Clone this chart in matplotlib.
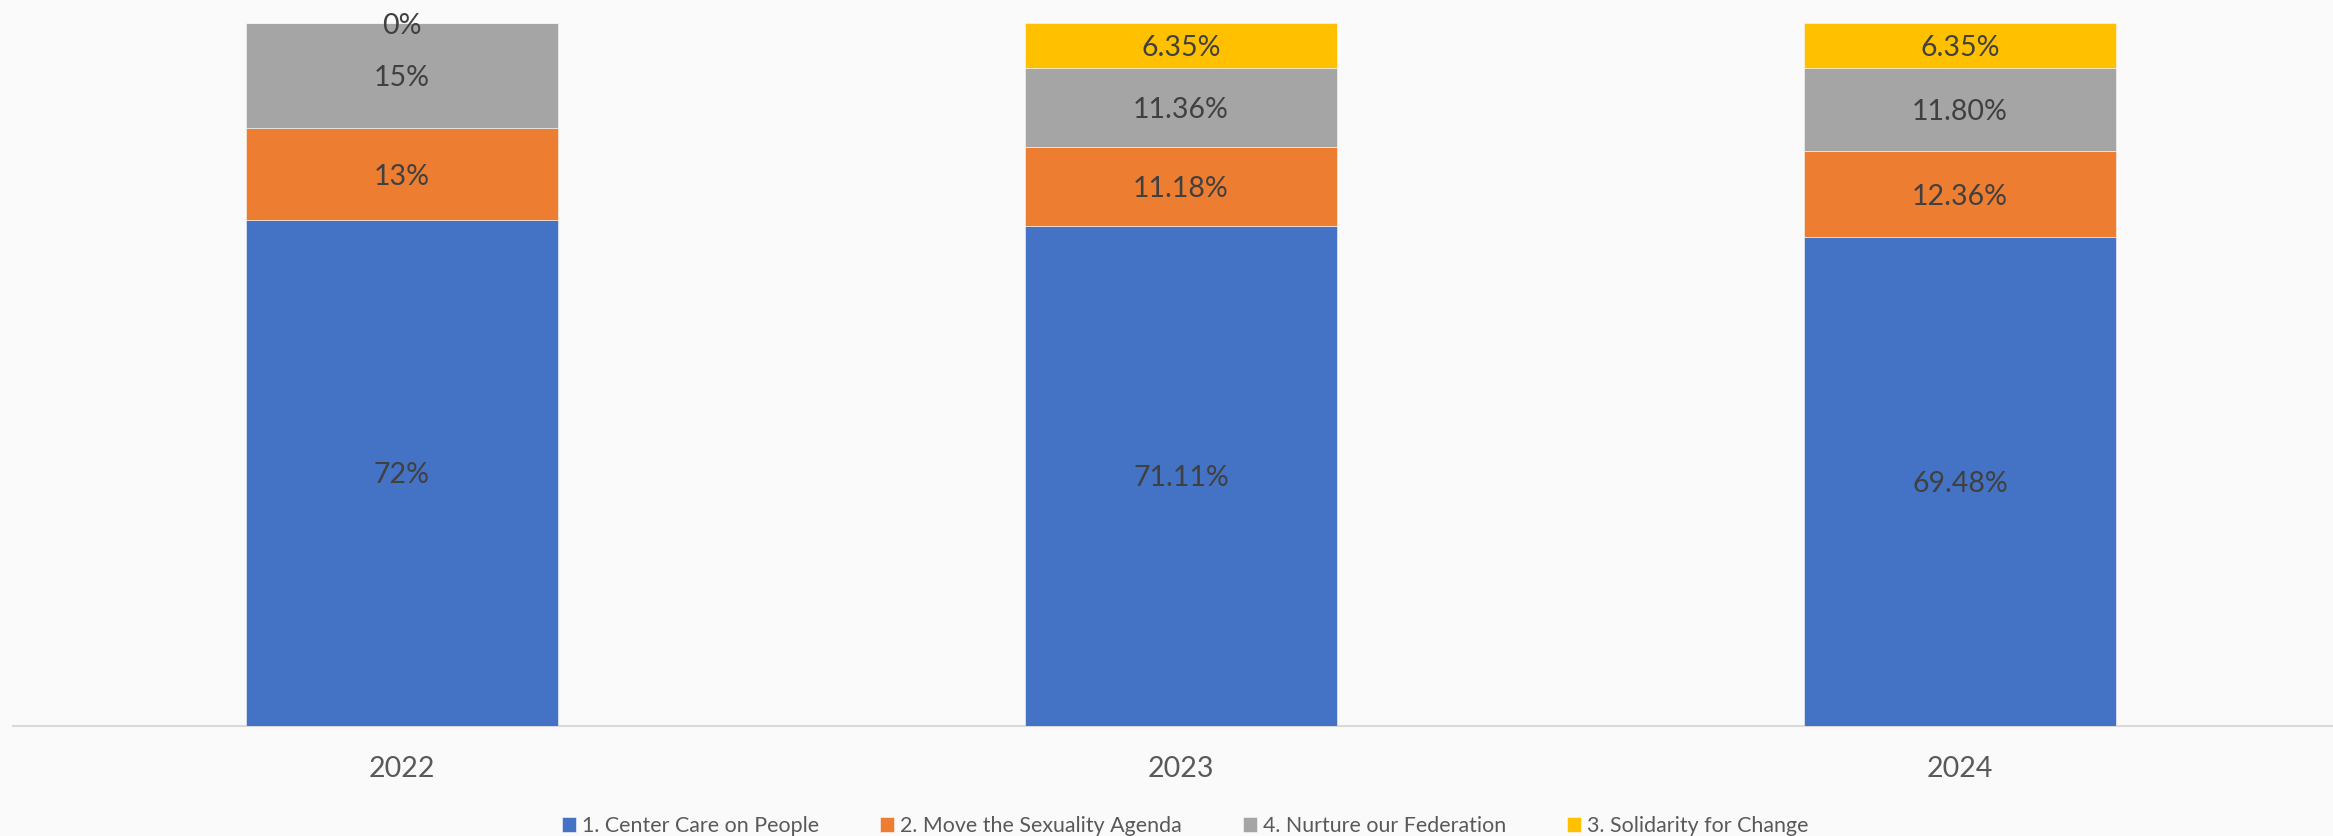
import matplotlib
matplotlib.use("Agg")
import matplotlib.pyplot as plt

# ---- data ----
years = ["2022", "2023", "2024"]
series_names = ["1. Center Care on People", "2. Move the Sexuality Agenda",
                "4. Nurture our Federation", "3. Solidarity for Change"]
center_care = [72, 71.11, 69.48]
move_agenda = [13, 11.18, 12.36]
nurture_fed = [15, 11.36, 11.80]
solidarity = [0, 6.35, 6.35]
center_care_lbl = ["72%", "71.11%", "69.48%"]
move_agenda_lbl = ["13%", "11.18%", "12.36%"]
nurture_fed_lbl = ["15%", "11.36%", "11.80%"]
solidarity_lbl = ["0%", "6.35%", "6.35%"]

series_values = [center_care, move_agenda, nurture_fed, solidarity]
series_labels = [center_care_lbl, move_agenda_lbl, nurture_fed_lbl, solidarity_lbl]
colors = ["#4472C4", "#ED7D31", "#A5A5A5", "#FFC000"]

plt.rcParams['font.family'] = ['Lato', 'DejaVu Sans']

W, H, DPI = 2333, 836, 100
fig = plt.figure(figsize=(W / DPI, H / DPI), dpi=DPI, facecolor="#FAFAFA")

left_px, right_px = 12.5, 2349.5
top_px, base_px = 23.0, 725.7
ax = fig.add_axes([left_px / W, 1 - base_px / H,
                   (right_px - left_px) / W, (base_px - top_px) / H])
ax.set_facecolor("#FAFAFA")

x = list(range(len(years)))
bottoms = [0.0] * len(years)
handles = []
for vals, lbls, col, name in zip(series_values, series_labels, colors, series_names):
    bars = ax.bar(x, vals, width=0.4, bottom=bottoms, color=col,
                  edgecolor="#FAFAFA", linewidth=0.4, label=name, zorder=2)
    handles.append(bars)
    for xi, v, b, t in zip(x, vals, bottoms, lbls):
        ax.text(xi, b + v / 2, t, ha="center", va="center_baseline",
                fontsize=20.5, color="#404040", clip_on=False, zorder=3)
    bottoms = [b + v for b, v in zip(bottoms, vals)]

ax.set_xlim(-0.5, 2.5)
ax.set_ylim(0, 100)
ax.set_yticks([])
ax.set_xticks(x)
ax.set_xticklabels(years, fontsize=20.5, color="#595959")
ax.tick_params(axis="x", length=0, pad=37.2)
for lbl in ax.get_xticklabels():
    lbl.set_va("baseline")

for s in ["top", "right", "left"]:
    ax.spines[s].set_visible(False)
ax.spines["bottom"].set_color("#D9D9D9")
ax.spines["bottom"].set_linewidth(1.5)
ax.spines["bottom"].set_zorder(1)

fs_leg = 15.4
em_px = fs_leg / 72 * DPI
leg = fig.legend(handles=handles, labels=series_names, loc="center",
                 bbox_to_anchor=(1185 / W, 1 - 826 / H), ncol=4, frameon=False,
                 fontsize=fs_leg, handlelength=14 / em_px, handleheight=14 / em_px,
                 handletextpad=6 / em_px, columnspacing=61 / em_px,
                 borderpad=0, borderaxespad=0)
for t in leg.get_texts():
    t.set_color("#595959")

fig.savefig("out.png", dpi=DPI, facecolor=fig.get_facecolor())
